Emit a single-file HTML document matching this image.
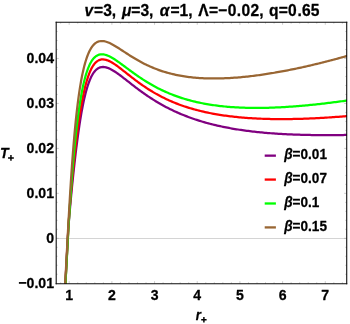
<!DOCTYPE html>
<html><head><meta charset="utf-8"><title>T+ vs r+</title>
<style>
html,body{margin:0;padding:0;background:#fff;}
body{width:350px;height:324px;overflow:hidden;}
svg{display:block;will-change:transform;font-family:"Liberation Sans",sans-serif;font-weight:bold;font-size:12px;fill:#000;}
text{stroke:#000;stroke-width:0.28px;stroke-linejoin:round;}
</style></head><body>
<svg width="350" height="324" viewBox="0 0 350 324">
<rect width="350" height="324" fill="#fff"/>
<line x1="56.20" y1="238.5" x2="346.72" y2="238.5" stroke="#c2c2c2" stroke-width="0.7"/>
<clipPath id="c"><rect x="56.20" y="22.20" width="290.82" height="261.84"/></clipPath>
<g clip-path="url(#c)">
<path d="M65.30 284.48 L65.38 282.97 L65.47 281.47 L65.55 279.96 L65.64 278.46 L65.72 276.95 L65.81 275.45 L65.89 273.94 L65.97 272.43 L66.06 270.93 L66.14 269.42 L66.22 267.92 L66.30 266.41 L66.38 264.90 L66.46 263.40 L66.54 261.89 L66.62 260.39 L66.70 258.88 L66.78 257.37 L66.86 255.87 L66.94 254.36 L67.02 252.86 L67.10 251.35 L67.18 249.84 L67.26 248.34 L67.34 246.83 L67.42 245.33 L67.50 243.82 L67.58 242.31 L67.66 240.81 L67.74 239.30 L67.82 237.80 L67.90 236.29 L67.98 234.79 L68.06 233.28 L68.14 231.77 L68.22 230.27 L68.32 228.76 L68.44 227.26 L68.55 225.76 L68.67 224.25 L68.78 222.75 L68.90 221.25 L69.03 219.74 L69.15 218.24 L69.27 216.74 L69.40 215.23 L69.52 213.73 L69.65 212.23 L69.78 210.73 L69.91 209.22 L70.05 207.72 L70.18 206.22 L70.32 204.72 L70.45 203.21 L70.59 201.71 L70.73 200.21 L70.87 198.71 L71.01 197.21 L71.15 195.71 L71.30 194.21 L71.44 192.70 L71.59 191.20 L71.74 189.70 L71.88 188.20 L72.03 186.70 L72.18 185.20 L72.33 183.70 L72.49 182.20 L72.64 180.70 L72.80 179.20 L72.95 177.70 L73.11 176.20 L73.27 174.70 L73.43 173.20 L73.59 171.70 L73.75 170.20 L73.91 168.70 L74.08 167.20 L74.25 165.71 L74.41 164.21 L74.58 162.71 L74.75 161.21 L74.92 159.71 L75.10 158.21 L75.27 156.71 L75.45 155.22 L75.62 153.72 L75.80 152.22 L75.99 150.73 L76.17 149.23 L76.35 147.73 L76.54 146.24 L76.73 144.74 L76.92 143.24 L77.11 141.75 L77.31 140.25 L77.51 138.76 L77.71 137.26 L77.91 135.77 L78.12 134.27 L78.32 132.78 L78.54 131.29 L78.75 129.79 L78.97 128.30 L79.19 126.81 L79.41 125.32 L79.64 123.83 L79.87 122.34 L80.10 120.85 L80.34 119.36 L80.59 117.87 L80.84 116.38 L81.09 114.90 L81.35 113.41 L81.61 111.93 L81.88 110.44 L82.15 108.96 L82.43 107.48 L82.72 106.00 L83.02 104.52 L83.32 103.04 L83.63 101.57 L83.95 100.09 L84.28 98.62 L84.62 97.15 L84.97 95.68 L85.33 94.22 L85.70 92.76 L86.09 91.30 L86.49 89.85 L86.91 88.40 L87.35 86.96 L87.81 85.52 L88.28 84.09 L88.79 82.67 L89.32 81.26 L89.88 79.86 L90.48 78.47 L91.12 77.10 L91.80 75.76 L92.54 74.45 L93.34 73.17 L94.22 71.94 L95.18 70.78 L96.24 69.71 L97.42 68.77 L98.71 67.99 L100.10 67.41 L101.56 67.07 L103.07 66.96 L104.57 67.07 L106.05 67.36 L107.49 67.80 L108.90 68.34 L110.27 68.97 L111.61 69.67 L112.91 70.42 L114.20 71.21 L115.46 72.03 L116.71 72.88 L117.94 73.75 L119.16 74.63 L120.38 75.53 L121.58 76.44 L122.78 77.36 L123.97 78.28 L125.16 79.20 L126.35 80.13 L127.54 81.06 L128.72 81.99 L129.91 82.92 L131.10 83.85 L132.29 84.78 L133.48 85.70 L134.68 86.62 L135.88 87.53 L137.08 88.44 L138.29 89.34 L139.50 90.24 L140.72 91.13 L141.94 92.01 L143.17 92.89 L144.40 93.76 L145.64 94.62 L146.88 95.47 L148.13 96.32 L149.39 97.16 L150.65 97.98 L151.91 98.80 L153.19 99.61 L154.47 100.41 L155.75 101.20 L157.04 101.98 L158.34 102.74 L159.64 103.50 L160.95 104.25 L162.27 104.99 L163.59 105.72 L164.92 106.43 L166.25 107.14 L167.59 107.83 L168.93 108.52 L170.28 109.19 L171.64 109.85 L173.00 110.50 L174.36 111.15 L175.73 111.78 L177.11 112.39 L178.49 113.00 L179.87 113.60 L181.26 114.18 L182.66 114.76 L184.05 115.32 L185.46 115.88 L186.86 116.42 L188.27 116.95 L189.69 117.48 L191.11 117.99 L192.53 118.49 L193.96 118.98 L195.39 119.46 L196.82 119.93 L198.25 120.39 L199.69 120.84 L201.13 121.28 L202.58 121.72 L204.03 122.14 L205.48 122.55 L206.93 122.96 L208.39 123.35 L209.84 123.73 L211.31 124.11 L212.77 124.48 L214.23 124.84 L215.70 125.19 L217.17 125.53 L218.64 125.86 L220.11 126.19 L221.59 126.51 L223.06 126.82 L224.54 127.12 L226.02 127.41 L227.50 127.70 L228.98 127.98 L230.46 128.25 L231.95 128.52 L233.43 128.77 L234.92 129.02 L236.41 129.27 L237.90 129.50 L239.39 129.74 L240.88 129.96 L242.37 130.18 L243.87 130.39 L245.36 130.59 L246.85 130.79 L248.35 130.99 L249.85 131.18 L251.34 131.36 L252.84 131.53 L254.34 131.71 L255.84 131.87 L257.34 132.03 L258.84 132.19 L260.34 132.34 L261.84 132.48 L263.34 132.62 L264.84 132.76 L266.35 132.89 L267.85 133.02 L269.35 133.14 L270.85 133.25 L272.36 133.37 L273.86 133.48 L275.37 133.58 L276.87 133.68 L278.38 133.78 L279.88 133.87 L281.39 133.96 L282.89 134.04 L284.40 134.12 L285.91 134.20 L287.41 134.27 L288.92 134.34 L290.42 134.41 L291.93 134.47 L293.44 134.53 L294.95 134.59 L296.45 134.64 L297.96 134.70 L299.47 134.74 L300.97 134.79 L302.48 134.83 L303.99 134.87 L305.50 134.90 L307.00 134.93 L308.51 134.96 L310.02 134.99 L311.53 135.02 L313.04 135.04 L314.54 135.06 L316.05 135.08 L317.56 135.09 L319.07 135.10 L320.58 135.11 L322.08 135.12 L323.59 135.13 L325.10 135.13 L326.61 135.13 L328.12 135.13 L329.62 135.13 L331.13 135.12 L332.64 135.11 L334.15 135.10 L335.66 135.09 L337.16 135.08 L338.67 135.07 L340.18 135.05 L341.69 135.03 L343.20 135.01 L344.70 134.99 L346.21 134.96 L347.72 134.94" fill="none" stroke="#800080" stroke-width="2.25" stroke-linejoin="round"/>
<path d="M65.35 284.46 L65.43 282.95 L65.52 281.45 L65.61 279.94 L65.69 278.44 L65.78 276.93 L65.86 275.42 L65.94 273.92 L66.02 272.41 L66.11 270.91 L66.19 269.40 L66.27 267.89 L66.35 266.39 L66.43 264.88 L66.51 263.37 L66.59 261.87 L66.67 260.36 L66.75 258.86 L66.83 257.35 L66.91 255.84 L66.99 254.34 L67.07 252.83 L67.15 251.32 L67.23 249.82 L67.31 248.31 L67.39 246.81 L67.47 245.30 L67.55 243.79 L67.63 242.29 L67.71 240.78 L67.79 239.27 L67.87 237.77 L67.95 236.26 L68.03 234.76 L68.11 233.25 L68.19 231.74 L68.27 230.24 L68.36 228.73 L68.44 227.22 L68.52 225.72 L68.60 224.21 L68.69 222.71 L68.77 221.20 L68.88 219.70 L68.99 218.19 L69.10 216.69 L69.21 215.18 L69.33 213.68 L69.44 212.17 L69.56 210.67 L69.67 209.17 L69.79 207.66 L69.91 206.16 L70.03 204.66 L70.15 203.15 L70.27 201.65 L70.39 200.15 L70.52 198.64 L70.64 197.14 L70.77 195.64 L70.89 194.13 L71.02 192.63 L71.15 191.13 L71.28 189.62 L71.42 188.12 L71.55 186.62 L71.68 185.12 L71.82 183.61 L71.95 182.11 L72.09 180.61 L72.23 179.11 L72.37 177.61 L72.51 176.10 L72.66 174.60 L72.80 173.10 L72.94 171.60 L73.09 170.10 L73.24 168.60 L73.39 167.10 L73.54 165.60 L73.69 164.09 L73.84 162.59 L74.00 161.09 L74.15 159.59 L74.31 158.09 L74.47 156.59 L74.63 155.09 L74.79 153.59 L74.96 152.09 L75.12 150.60 L75.29 149.10 L75.46 147.60 L75.63 146.10 L75.81 144.60 L75.98 143.10 L76.16 141.60 L76.34 140.11 L76.52 138.61 L76.70 137.11 L76.89 135.61 L77.08 134.12 L77.27 132.62 L77.46 131.13 L77.66 129.63 L77.85 128.13 L78.05 126.64 L78.26 125.15 L78.47 123.65 L78.68 122.16 L78.89 120.66 L79.11 119.17 L79.33 117.68 L79.55 116.19 L79.78 114.70 L80.01 113.21 L80.25 111.72 L80.49 110.23 L80.74 108.74 L80.99 107.25 L81.24 105.77 L81.51 104.28 L81.77 102.80 L82.05 101.31 L82.33 99.83 L82.61 98.35 L82.91 96.87 L83.21 95.39 L83.52 93.92 L83.84 92.44 L84.16 90.97 L84.50 89.50 L84.85 88.03 L85.21 86.57 L85.58 85.11 L85.97 83.65 L86.37 82.19 L86.79 80.74 L87.23 79.30 L87.69 77.86 L88.16 76.43 L88.67 75.01 L89.20 73.60 L89.76 72.20 L90.36 70.81 L91.00 69.45 L91.68 68.10 L92.42 66.79 L93.22 65.51 L94.10 64.29 L95.07 63.13 L96.13 62.06 L97.31 61.12 L98.60 60.35 L100.00 59.78 L101.47 59.46 L102.98 59.38 L104.48 59.52 L105.95 59.85 L107.39 60.31 L108.78 60.88 L110.14 61.54 L111.47 62.26 L112.76 63.03 L114.03 63.84 L115.29 64.68 L116.52 65.54 L117.74 66.43 L118.95 67.33 L120.16 68.24 L121.35 69.16 L122.54 70.09 L123.73 71.02 L124.91 71.96 L126.09 72.89 L127.27 73.83 L128.46 74.76 L129.64 75.70 L130.83 76.63 L132.02 77.55 L133.22 78.47 L134.42 79.39 L135.62 80.30 L136.83 81.20 L138.04 82.10 L139.26 82.98 L140.49 83.86 L141.72 84.73 L142.96 85.59 L144.20 86.44 L145.46 87.28 L146.72 88.12 L147.98 88.93 L149.26 89.74 L150.54 90.54 L151.82 91.33 L153.12 92.10 L154.42 92.86 L155.73 93.61 L157.04 94.35 L158.37 95.08 L159.70 95.79 L161.03 96.49 L162.37 97.18 L163.72 97.85 L165.08 98.51 L166.44 99.16 L167.81 99.80 L169.18 100.42 L170.56 101.03 L171.95 101.63 L173.34 102.21 L174.73 102.79 L176.13 103.35 L177.54 103.89 L178.95 104.43 L180.36 104.95 L181.78 105.46 L183.21 105.95 L184.64 106.44 L186.07 106.91 L187.51 107.37 L188.95 107.82 L190.39 108.26 L191.84 108.69 L193.29 109.10 L194.74 109.51 L196.20 109.90 L197.65 110.28 L199.12 110.66 L200.58 111.02 L202.05 111.37 L203.52 111.71 L204.99 112.04 L206.46 112.36 L207.94 112.67 L209.42 112.98 L210.89 113.27 L212.38 113.55 L213.86 113.83 L215.34 114.10 L216.83 114.35 L218.32 114.60 L219.81 114.84 L221.30 115.08 L222.79 115.30 L224.28 115.52 L225.78 115.73 L227.27 115.93 L228.77 116.12 L230.26 116.31 L231.76 116.49 L233.26 116.66 L234.76 116.83 L236.26 116.98 L237.76 117.14 L239.26 117.28 L240.76 117.42 L242.27 117.55 L243.77 117.68 L245.27 117.80 L246.78 117.91 L248.28 118.02 L249.79 118.12 L251.29 118.22 L252.80 118.31 L254.30 118.40 L255.81 118.48 L257.32 118.55 L258.82 118.62 L260.33 118.69 L261.84 118.75 L263.34 118.80 L264.85 118.85 L266.36 118.90 L267.87 118.94 L269.37 118.98 L270.88 119.01 L272.39 119.04 L273.90 119.06 L275.41 119.08 L276.92 119.09 L278.42 119.10 L279.93 119.11 L281.44 119.11 L282.95 119.11 L284.46 119.10 L285.97 119.09 L287.47 119.08 L288.98 119.06 L290.49 119.04 L292.00 119.02 L293.51 118.99 L295.02 118.96 L296.52 118.93 L298.03 118.89 L299.54 118.85 L301.05 118.80 L302.55 118.76 L304.06 118.70 L305.57 118.65 L307.08 118.59 L308.58 118.53 L310.09 118.47 L311.60 118.40 L313.10 118.34 L314.61 118.26 L316.12 118.19 L317.62 118.11 L319.13 118.03 L320.64 117.95 L322.14 117.86 L323.65 117.78 L325.15 117.69 L326.66 117.59 L328.17 117.50 L329.67 117.40 L331.18 117.30 L332.68 117.20 L334.19 117.09 L335.69 116.98 L337.19 116.87 L338.70 116.76 L340.20 116.65 L341.71 116.53 L343.21 116.41 L344.71 116.29 L346.22 116.17 L347.72 116.04" fill="none" stroke="#ff0000" stroke-width="2.25" stroke-linejoin="round"/>
<path d="M65.40 284.78 L65.46 283.28 L65.55 281.78 L65.64 280.27 L65.72 278.77 L65.81 277.27 L65.89 275.77 L65.97 274.26 L66.06 272.76 L66.14 271.26 L66.22 269.76 L66.30 268.25 L66.38 266.75 L66.46 265.25 L66.54 263.74 L66.62 262.24 L66.70 260.74 L66.78 259.24 L66.86 257.73 L66.94 256.23 L67.02 254.73 L67.10 253.22 L67.18 251.72 L67.26 250.22 L67.34 248.72 L67.42 247.21 L67.50 245.71 L67.58 244.21 L67.66 242.70 L67.74 241.20 L67.82 239.70 L67.90 238.20 L67.98 236.69 L68.06 235.19 L68.14 233.69 L68.22 232.18 L68.30 230.68 L68.38 229.18 L68.47 227.68 L68.56 226.17 L68.66 224.67 L68.75 223.17 L68.85 221.67 L68.94 220.17 L69.04 218.67 L69.13 217.16 L69.23 215.66 L69.33 214.16 L69.43 212.66 L69.53 211.16 L69.62 209.65 L69.72 208.15 L69.83 206.65 L69.93 205.15 L70.03 203.65 L70.13 202.15 L70.23 200.65 L70.34 199.14 L70.44 197.64 L70.55 196.14 L70.66 194.64 L70.76 193.14 L70.87 191.64 L70.98 190.14 L71.09 188.64 L71.20 187.14 L71.31 185.63 L71.43 184.13 L71.54 182.63 L71.65 181.13 L71.77 179.63 L71.89 178.13 L72.00 176.63 L72.12 175.13 L72.24 173.63 L72.36 172.13 L72.48 170.63 L72.61 169.13 L72.73 167.63 L72.86 166.13 L72.98 164.63 L73.11 163.13 L73.24 161.63 L73.37 160.13 L73.50 158.63 L73.64 157.14 L73.77 155.64 L73.91 154.14 L74.05 152.64 L74.19 151.14 L74.33 149.64 L74.47 148.14 L74.61 146.65 L74.76 145.15 L74.91 143.65 L75.06 142.15 L75.21 140.66 L75.36 139.16 L75.52 137.66 L75.68 136.17 L75.84 134.67 L76.00 133.17 L76.17 131.68 L76.33 130.18 L76.50 128.69 L76.68 127.19 L76.85 125.70 L77.03 124.20 L77.21 122.71 L77.39 121.21 L77.58 119.72 L77.77 118.23 L77.96 116.74 L78.16 115.24 L78.36 113.75 L78.57 112.26 L78.77 110.77 L78.99 109.28 L79.20 107.79 L79.43 106.30 L79.65 104.81 L79.88 103.33 L80.12 101.84 L80.36 100.36 L80.61 98.87 L80.86 97.39 L81.12 95.91 L81.39 94.42 L81.66 92.94 L81.95 91.47 L82.24 89.99 L82.53 88.51 L82.84 87.04 L83.16 85.57 L83.49 84.10 L83.83 82.64 L84.18 81.17 L84.55 79.71 L84.93 78.26 L85.33 76.81 L85.74 75.36 L86.17 73.92 L86.63 72.48 L87.10 71.06 L87.61 69.64 L88.14 68.23 L88.71 66.84 L89.31 65.46 L89.96 64.10 L90.65 62.76 L91.40 61.46 L92.22 60.20 L93.12 58.99 L94.11 57.86 L95.20 56.82 L96.40 55.92 L97.72 55.18 L99.12 54.66 L100.60 54.36 L102.10 54.30 L103.60 54.43 L105.07 54.73 L106.51 55.17 L107.92 55.70 L109.29 56.32 L110.63 57.00 L111.95 57.73 L113.24 58.50 L114.52 59.30 L115.78 60.13 L117.02 60.97 L118.26 61.83 L119.48 62.70 L120.70 63.58 L121.92 64.47 L123.13 65.37 L124.34 66.26 L125.54 67.16 L126.75 68.06 L127.96 68.96 L129.17 69.85 L130.38 70.74 L131.60 71.63 L132.81 72.52 L134.04 73.40 L135.26 74.27 L136.49 75.13 L137.73 75.99 L138.97 76.84 L140.22 77.69 L141.47 78.52 L142.73 79.34 L143.99 80.16 L145.27 80.96 L146.54 81.76 L147.83 82.54 L149.12 83.31 L150.42 84.08 L151.72 84.83 L153.03 85.56 L154.35 86.29 L155.68 87.00 L157.01 87.70 L158.35 88.39 L159.69 89.07 L161.04 89.73 L162.40 90.38 L163.77 91.02 L165.14 91.64 L166.51 92.25 L167.89 92.84 L169.28 93.43 L170.67 94.00 L172.07 94.55 L173.48 95.10 L174.88 95.63 L176.30 96.14 L177.72 96.65 L179.14 97.14 L180.57 97.61 L182.00 98.08 L183.43 98.53 L184.87 98.97 L186.32 99.39 L187.77 99.80 L189.22 100.20 L190.67 100.59 L192.13 100.97 L193.59 101.33 L195.05 101.69 L196.52 102.03 L197.98 102.36 L199.46 102.67 L200.93 102.98 L202.40 103.27 L203.88 103.56 L205.36 103.83 L206.84 104.10 L208.33 104.35 L209.81 104.59 L211.30 104.83 L212.79 105.05 L214.28 105.26 L215.77 105.46 L217.26 105.66 L218.75 105.84 L220.25 106.02 L221.75 106.19 L223.24 106.35 L224.74 106.50 L226.24 106.64 L227.74 106.77 L229.24 106.90 L230.74 107.01 L232.24 107.12 L233.74 107.22 L235.24 107.32 L236.74 107.41 L238.25 107.49 L239.75 107.56 L241.25 107.62 L242.76 107.68 L244.26 107.74 L245.77 107.78 L247.27 107.82 L248.77 107.85 L250.28 107.88 L251.78 107.90 L253.29 107.92 L254.79 107.92 L256.30 107.93 L257.80 107.93 L259.31 107.92 L260.81 107.90 L262.32 107.88 L263.82 107.86 L265.33 107.83 L266.83 107.80 L268.34 107.76 L269.84 107.71 L271.35 107.67 L272.85 107.61 L274.35 107.55 L275.86 107.49 L277.36 107.42 L278.86 107.35 L280.37 107.28 L281.87 107.20 L283.37 107.11 L284.87 107.02 L286.38 106.93 L287.88 106.84 L289.38 106.74 L290.88 106.63 L292.38 106.53 L293.88 106.41 L295.38 106.30 L296.88 106.18 L298.38 106.06 L299.88 105.94 L301.38 105.81 L302.88 105.68 L304.38 105.54 L305.88 105.40 L307.38 105.26 L308.88 105.12 L310.37 104.97 L311.87 104.82 L313.37 104.67 L314.87 104.51 L316.36 104.35 L317.86 104.19 L319.35 104.02 L320.85 103.86 L322.35 103.69 L323.84 103.52 L325.33 103.34 L326.83 103.16 L328.32 102.98 L329.82 102.80 L331.31 102.61 L332.80 102.43 L334.30 102.24 L335.79 102.04 L337.28 101.85 L338.77 101.65 L340.27 101.45 L341.76 101.25 L343.25 101.05 L344.74 100.84 L346.23 100.64 L347.72 100.43" fill="none" stroke="#00ff00" stroke-width="2.25" stroke-linejoin="round"/>
<path d="M65.10 284.46 L65.18 282.95 L65.27 281.45 L65.36 279.95 L65.44 278.44 L65.52 276.94 L65.61 275.44 L65.69 273.94 L65.77 272.43 L65.86 270.93 L65.94 269.43 L66.02 267.93 L66.10 266.42 L66.18 264.92 L66.26 263.42 L66.34 261.91 L66.42 260.41 L66.50 258.91 L66.58 257.40 L66.66 255.90 L66.74 254.40 L66.82 252.90 L66.90 251.39 L66.98 249.89 L67.06 248.39 L67.14 246.88 L67.21 245.38 L67.29 243.88 L67.37 242.38 L67.45 240.87 L67.53 239.37 L67.61 237.87 L67.69 236.36 L67.78 234.86 L67.86 233.36 L67.94 231.86 L68.02 230.35 L68.10 228.85 L68.18 227.35 L68.26 225.84 L68.35 224.34 L68.43 222.84 L68.51 221.34 L68.59 219.83 L68.68 218.33 L68.76 216.83 L68.85 215.32 L68.93 213.82 L69.02 212.32 L69.10 210.82 L69.19 209.31 L69.28 207.81 L69.36 206.31 L69.45 204.81 L69.54 203.30 L69.63 201.80 L69.72 200.30 L69.81 198.80 L69.90 197.29 L69.99 195.79 L70.08 194.29 L70.17 192.79 L70.26 191.29 L70.36 189.78 L70.45 188.28 L70.55 186.78 L70.64 185.28 L70.74 183.77 L70.83 182.27 L70.93 180.77 L71.03 179.27 L71.13 177.77 L71.23 176.27 L71.33 174.76 L71.43 173.26 L71.54 171.76 L71.64 170.26 L71.74 168.76 L71.85 167.26 L71.96 165.76 L72.06 164.25 L72.17 162.75 L72.28 161.25 L72.39 159.75 L72.50 158.25 L72.62 156.75 L72.73 155.25 L72.85 153.75 L72.96 152.25 L73.08 150.75 L73.20 149.25 L73.32 147.75 L73.44 146.25 L73.57 144.75 L73.69 143.25 L73.82 141.75 L73.95 140.25 L74.08 138.75 L74.21 137.25 L74.34 135.75 L74.47 134.25 L74.61 132.75 L74.75 131.25 L74.89 129.75 L75.03 128.26 L75.18 126.76 L75.32 125.26 L75.47 123.76 L75.62 122.26 L75.77 120.77 L75.93 119.27 L76.09 117.77 L76.25 116.28 L76.41 114.78 L76.57 113.28 L76.74 111.79 L76.91 110.29 L77.09 108.80 L77.27 107.30 L77.45 105.81 L77.63 104.32 L77.82 102.82 L78.01 101.33 L78.20 99.84 L78.40 98.35 L78.61 96.85 L78.81 95.36 L79.03 93.87 L79.24 92.38 L79.47 90.90 L79.69 89.41 L79.93 87.92 L80.17 86.44 L80.41 84.95 L80.66 83.47 L80.92 81.98 L81.19 80.50 L81.46 79.02 L81.74 77.54 L82.03 76.07 L82.33 74.59 L82.64 73.12 L82.96 71.65 L83.29 70.18 L83.63 68.71 L83.99 67.25 L84.36 65.79 L84.75 64.34 L85.15 62.89 L85.57 61.44 L86.01 60.01 L86.48 58.57 L86.97 57.15 L87.49 55.74 L88.04 54.34 L88.62 52.95 L89.25 51.58 L89.92 50.24 L90.65 48.92 L91.44 47.64 L92.30 46.40 L93.24 45.23 L94.28 44.14 L95.42 43.16 L96.68 42.33 L98.03 41.69 L99.47 41.25 L100.96 41.04 L102.46 41.03 L103.96 41.20 L105.43 41.52 L106.87 41.96 L108.28 42.49 L109.66 43.09 L111.01 43.74 L112.35 44.44 L113.66 45.17 L114.96 45.93 L116.25 46.71 L117.53 47.50 L118.80 48.31 L120.06 49.12 L121.33 49.95 L122.59 50.77 L123.84 51.59 L125.10 52.42 L126.36 53.24 L127.63 54.06 L128.89 54.87 L130.16 55.68 L131.44 56.48 L132.72 57.27 L134.00 58.05 L135.30 58.83 L136.59 59.59 L137.90 60.34 L139.21 61.07 L140.53 61.80 L141.86 62.51 L143.19 63.21 L144.53 63.89 L145.88 64.56 L147.24 65.21 L148.60 65.85 L149.97 66.47 L151.35 67.07 L152.74 67.66 L154.13 68.23 L155.53 68.79 L156.93 69.32 L158.35 69.84 L159.76 70.35 L161.19 70.84 L162.62 71.31 L164.05 71.76 L165.49 72.19 L166.94 72.61 L168.39 73.02 L169.84 73.40 L171.30 73.77 L172.76 74.13 L174.23 74.47 L175.70 74.79 L177.17 75.10 L178.65 75.39 L180.13 75.66 L181.61 75.93 L183.10 76.17 L184.58 76.41 L186.07 76.62 L187.56 76.83 L189.06 77.02 L190.55 77.20 L192.05 77.37 L193.54 77.52 L195.04 77.66 L196.54 77.79 L198.04 77.90 L199.54 78.01 L201.05 78.10 L202.55 78.18 L204.05 78.26 L205.56 78.32 L207.06 78.37 L208.57 78.41 L210.07 78.44 L211.58 78.46 L213.08 78.47 L214.59 78.47 L216.09 78.46 L217.60 78.45 L219.10 78.42 L220.61 78.39 L222.11 78.35 L223.61 78.30 L225.12 78.24 L226.62 78.17 L228.12 78.10 L229.63 78.02 L231.13 77.93 L232.63 77.84 L234.13 77.73 L235.63 77.62 L237.14 77.51 L238.64 77.39 L240.13 77.26 L241.63 77.12 L243.13 76.98 L244.63 76.83 L246.13 76.68 L247.62 76.52 L249.12 76.35 L250.61 76.18 L252.11 76.00 L253.60 75.82 L255.10 75.63 L256.59 75.44 L258.08 75.24 L259.57 75.04 L261.06 74.83 L262.55 74.62 L264.04 74.40 L265.53 74.17 L267.02 73.95 L268.50 73.71 L269.99 73.48 L271.48 73.23 L272.96 72.99 L274.45 72.74 L275.93 72.48 L277.41 72.22 L278.89 71.96 L280.37 71.69 L281.86 71.42 L283.33 71.15 L284.81 70.87 L286.29 70.59 L287.77 70.30 L289.25 70.01 L290.72 69.71 L292.20 69.42 L293.67 69.11 L295.15 68.81 L296.62 68.50 L298.09 68.19 L299.56 67.87 L301.03 67.55 L302.50 67.23 L303.97 66.90 L305.44 66.57 L306.91 66.24 L308.38 65.91 L309.84 65.57 L311.31 65.22 L312.77 64.88 L314.24 64.53 L315.70 64.18 L317.16 63.83 L318.63 63.47 L320.09 63.11 L321.55 62.75 L323.01 62.38 L324.47 62.01 L325.93 61.64 L327.38 61.27 L328.84 60.89 L330.30 60.51 L331.75 60.13 L333.21 59.74 L334.66 59.36 L336.12 58.97 L337.57 58.57 L339.02 58.18 L340.47 57.78 L341.92 57.38 L343.37 56.98 L344.82 56.57 L346.27 56.16 L347.72 55.76" fill="none" stroke="#996633" stroke-width="2.25" stroke-linejoin="round"/>
</g>
<g stroke="#9a9a9a" stroke-width="0.5">
<line x1="60.67" y1="283.74" x2="60.67" y2="282.24"/>
<line x1="60.67" y1="22.20" x2="60.67" y2="23.70"/>
<line x1="69.20" y1="283.74" x2="69.20" y2="281.14"/>
<line x1="69.20" y1="22.20" x2="69.20" y2="24.80"/>
<line x1="77.74" y1="283.74" x2="77.74" y2="282.24"/>
<line x1="77.74" y1="22.20" x2="77.74" y2="23.70"/>
<line x1="86.28" y1="283.74" x2="86.28" y2="282.24"/>
<line x1="86.28" y1="22.20" x2="86.28" y2="23.70"/>
<line x1="94.81" y1="283.74" x2="94.81" y2="282.24"/>
<line x1="94.81" y1="22.20" x2="94.81" y2="23.70"/>
<line x1="103.35" y1="283.74" x2="103.35" y2="282.24"/>
<line x1="103.35" y1="22.20" x2="103.35" y2="23.70"/>
<line x1="111.88" y1="283.74" x2="111.88" y2="281.14"/>
<line x1="111.88" y1="22.20" x2="111.88" y2="24.80"/>
<line x1="120.42" y1="283.74" x2="120.42" y2="282.24"/>
<line x1="120.42" y1="22.20" x2="120.42" y2="23.70"/>
<line x1="128.96" y1="283.74" x2="128.96" y2="282.24"/>
<line x1="128.96" y1="22.20" x2="128.96" y2="23.70"/>
<line x1="137.49" y1="283.74" x2="137.49" y2="282.24"/>
<line x1="137.49" y1="22.20" x2="137.49" y2="23.70"/>
<line x1="146.03" y1="283.74" x2="146.03" y2="282.24"/>
<line x1="146.03" y1="22.20" x2="146.03" y2="23.70"/>
<line x1="154.56" y1="283.74" x2="154.56" y2="281.14"/>
<line x1="154.56" y1="22.20" x2="154.56" y2="24.80"/>
<line x1="163.10" y1="283.74" x2="163.10" y2="282.24"/>
<line x1="163.10" y1="22.20" x2="163.10" y2="23.70"/>
<line x1="171.64" y1="283.74" x2="171.64" y2="282.24"/>
<line x1="171.64" y1="22.20" x2="171.64" y2="23.70"/>
<line x1="180.17" y1="283.74" x2="180.17" y2="282.24"/>
<line x1="180.17" y1="22.20" x2="180.17" y2="23.70"/>
<line x1="188.71" y1="283.74" x2="188.71" y2="282.24"/>
<line x1="188.71" y1="22.20" x2="188.71" y2="23.70"/>
<line x1="197.24" y1="283.74" x2="197.24" y2="281.14"/>
<line x1="197.24" y1="22.20" x2="197.24" y2="24.80"/>
<line x1="205.78" y1="283.74" x2="205.78" y2="282.24"/>
<line x1="205.78" y1="22.20" x2="205.78" y2="23.70"/>
<line x1="214.32" y1="283.74" x2="214.32" y2="282.24"/>
<line x1="214.32" y1="22.20" x2="214.32" y2="23.70"/>
<line x1="222.85" y1="283.74" x2="222.85" y2="282.24"/>
<line x1="222.85" y1="22.20" x2="222.85" y2="23.70"/>
<line x1="231.39" y1="283.74" x2="231.39" y2="282.24"/>
<line x1="231.39" y1="22.20" x2="231.39" y2="23.70"/>
<line x1="239.92" y1="283.74" x2="239.92" y2="281.14"/>
<line x1="239.92" y1="22.20" x2="239.92" y2="24.80"/>
<line x1="248.46" y1="283.74" x2="248.46" y2="282.24"/>
<line x1="248.46" y1="22.20" x2="248.46" y2="23.70"/>
<line x1="257.00" y1="283.74" x2="257.00" y2="282.24"/>
<line x1="257.00" y1="22.20" x2="257.00" y2="23.70"/>
<line x1="265.53" y1="283.74" x2="265.53" y2="282.24"/>
<line x1="265.53" y1="22.20" x2="265.53" y2="23.70"/>
<line x1="274.07" y1="283.74" x2="274.07" y2="282.24"/>
<line x1="274.07" y1="22.20" x2="274.07" y2="23.70"/>
<line x1="282.60" y1="283.74" x2="282.60" y2="281.14"/>
<line x1="282.60" y1="22.20" x2="282.60" y2="24.80"/>
<line x1="291.14" y1="283.74" x2="291.14" y2="282.24"/>
<line x1="291.14" y1="22.20" x2="291.14" y2="23.70"/>
<line x1="299.68" y1="283.74" x2="299.68" y2="282.24"/>
<line x1="299.68" y1="22.20" x2="299.68" y2="23.70"/>
<line x1="308.21" y1="283.74" x2="308.21" y2="282.24"/>
<line x1="308.21" y1="22.20" x2="308.21" y2="23.70"/>
<line x1="316.75" y1="283.74" x2="316.75" y2="282.24"/>
<line x1="316.75" y1="22.20" x2="316.75" y2="23.70"/>
<line x1="325.28" y1="283.74" x2="325.28" y2="281.14"/>
<line x1="325.28" y1="22.20" x2="325.28" y2="24.80"/>
<line x1="333.82" y1="283.74" x2="333.82" y2="282.24"/>
<line x1="333.82" y1="22.20" x2="333.82" y2="23.70"/>
<line x1="342.36" y1="283.74" x2="342.36" y2="282.24"/>
<line x1="342.36" y1="22.20" x2="342.36" y2="23.70"/>
<line x1="56.20" y1="274.27" x2="57.70" y2="274.27"/>
<line x1="346.72" y1="274.27" x2="345.22" y2="274.27"/>
<line x1="56.20" y1="265.28" x2="57.70" y2="265.28"/>
<line x1="346.72" y1="265.28" x2="345.22" y2="265.28"/>
<line x1="56.20" y1="256.28" x2="57.70" y2="256.28"/>
<line x1="346.72" y1="256.28" x2="345.22" y2="256.28"/>
<line x1="56.20" y1="247.29" x2="57.70" y2="247.29"/>
<line x1="346.72" y1="247.29" x2="345.22" y2="247.29"/>
<line x1="56.20" y1="238.30" x2="58.80" y2="238.30"/>
<line x1="346.72" y1="238.30" x2="344.12" y2="238.30"/>
<line x1="56.20" y1="229.31" x2="57.70" y2="229.31"/>
<line x1="346.72" y1="229.31" x2="345.22" y2="229.31"/>
<line x1="56.20" y1="220.32" x2="57.70" y2="220.32"/>
<line x1="346.72" y1="220.32" x2="345.22" y2="220.32"/>
<line x1="56.20" y1="211.32" x2="57.70" y2="211.32"/>
<line x1="346.72" y1="211.32" x2="345.22" y2="211.32"/>
<line x1="56.20" y1="202.33" x2="57.70" y2="202.33"/>
<line x1="346.72" y1="202.33" x2="345.22" y2="202.33"/>
<line x1="56.20" y1="193.34" x2="58.80" y2="193.34"/>
<line x1="346.72" y1="193.34" x2="344.12" y2="193.34"/>
<line x1="56.20" y1="184.35" x2="57.70" y2="184.35"/>
<line x1="346.72" y1="184.35" x2="345.22" y2="184.35"/>
<line x1="56.20" y1="175.36" x2="57.70" y2="175.36"/>
<line x1="346.72" y1="175.36" x2="345.22" y2="175.36"/>
<line x1="56.20" y1="166.36" x2="57.70" y2="166.36"/>
<line x1="346.72" y1="166.36" x2="345.22" y2="166.36"/>
<line x1="56.20" y1="157.37" x2="57.70" y2="157.37"/>
<line x1="346.72" y1="157.37" x2="345.22" y2="157.37"/>
<line x1="56.20" y1="148.38" x2="58.80" y2="148.38"/>
<line x1="346.72" y1="148.38" x2="344.12" y2="148.38"/>
<line x1="56.20" y1="139.39" x2="57.70" y2="139.39"/>
<line x1="346.72" y1="139.39" x2="345.22" y2="139.39"/>
<line x1="56.20" y1="130.40" x2="57.70" y2="130.40"/>
<line x1="346.72" y1="130.40" x2="345.22" y2="130.40"/>
<line x1="56.20" y1="121.40" x2="57.70" y2="121.40"/>
<line x1="346.72" y1="121.40" x2="345.22" y2="121.40"/>
<line x1="56.20" y1="112.41" x2="57.70" y2="112.41"/>
<line x1="346.72" y1="112.41" x2="345.22" y2="112.41"/>
<line x1="56.20" y1="103.42" x2="58.80" y2="103.42"/>
<line x1="346.72" y1="103.42" x2="344.12" y2="103.42"/>
<line x1="56.20" y1="94.43" x2="57.70" y2="94.43"/>
<line x1="346.72" y1="94.43" x2="345.22" y2="94.43"/>
<line x1="56.20" y1="85.44" x2="57.70" y2="85.44"/>
<line x1="346.72" y1="85.44" x2="345.22" y2="85.44"/>
<line x1="56.20" y1="76.44" x2="57.70" y2="76.44"/>
<line x1="346.72" y1="76.44" x2="345.22" y2="76.44"/>
<line x1="56.20" y1="67.45" x2="57.70" y2="67.45"/>
<line x1="346.72" y1="67.45" x2="345.22" y2="67.45"/>
<line x1="56.20" y1="58.46" x2="58.80" y2="58.46"/>
<line x1="346.72" y1="58.46" x2="344.12" y2="58.46"/>
<line x1="56.20" y1="49.47" x2="57.70" y2="49.47"/>
<line x1="346.72" y1="49.47" x2="345.22" y2="49.47"/>
<line x1="56.20" y1="40.48" x2="57.70" y2="40.48"/>
<line x1="346.72" y1="40.48" x2="345.22" y2="40.48"/>
<line x1="56.20" y1="31.48" x2="57.70" y2="31.48"/>
<line x1="346.72" y1="31.48" x2="345.22" y2="31.48"/>
</g>
<g stroke="#0c0c0c" stroke-width="1.08" stroke-linecap="square"><line x1="56.20" y1="22.20" x2="56.20" y2="283.74"/><line x1="346.72" y1="22.20" x2="346.72" y2="283.74"/><line x1="56.20" y1="22.20" x2="346.72" y2="22.20"/><line x1="56.20" y1="283.74" x2="346.72" y2="283.74"/></g>
<g><text transform="translate(69.20 299.50) scale(0.915 1)" text-anchor="middle" font-size="15.40">1</text><text transform="translate(111.88 299.50) scale(0.915 1)" text-anchor="middle" font-size="15.40">2</text><text transform="translate(154.56 299.50) scale(0.915 1)" text-anchor="middle" font-size="15.40">3</text><text transform="translate(197.24 299.50) scale(0.915 1)" text-anchor="middle" font-size="15.40">4</text><text transform="translate(239.92 299.50) scale(0.915 1)" text-anchor="middle" font-size="15.40">5</text><text transform="translate(282.60 299.50) scale(0.915 1)" text-anchor="middle" font-size="15.40">6</text><text transform="translate(325.28 299.50) scale(0.915 1)" text-anchor="middle" font-size="15.40">7</text></g>
<g><text transform="translate(54.00 288.16) scale(0.915 1)" text-anchor="end" font-size="15.40">−0.01</text><text transform="translate(54.00 243.20) scale(0.915 1)" text-anchor="end" font-size="15.40">0</text><text transform="translate(54.00 198.24) scale(0.915 1)" text-anchor="end" font-size="15.40">0.01</text><text transform="translate(54.00 153.28) scale(0.915 1)" text-anchor="end" font-size="15.40">0.02</text><text transform="translate(54.00 108.32) scale(0.915 1)" text-anchor="end" font-size="15.40">0.03</text><text transform="translate(54.00 63.36) scale(0.915 1)" text-anchor="end" font-size="15.40">0.04</text></g>
<g><line x1="264.7" y1="155.65" x2="275.9" y2="155.65" stroke="#800080" stroke-width="2.3"/><text transform="translate(284.20 159.05) scale(0.882 1)" text-anchor="start" font-size="15.40"><tspan font-style="italic">β</tspan>=0.01</text><line x1="264.7" y1="179.57" x2="275.9" y2="179.57" stroke="#ff0000" stroke-width="2.3"/><text transform="translate(284.20 182.97) scale(0.882 1)" text-anchor="start" font-size="15.40"><tspan font-style="italic">β</tspan>=0.07</text><line x1="264.7" y1="203.49" x2="275.9" y2="203.49" stroke="#00ff00" stroke-width="2.3"/><text transform="translate(284.20 206.89) scale(0.882 1)" text-anchor="start" font-size="15.40"><tspan font-style="italic">β</tspan>=0.1</text><line x1="264.7" y1="227.41" x2="275.9" y2="227.41" stroke="#996633" stroke-width="2.3"/><text transform="translate(284.20 230.81) scale(0.882 1)" text-anchor="start" font-size="15.40"><tspan font-style="italic">β</tspan>=0.15</text></g>
<text transform="translate(84.50 15.50) scale(0.935 1)" text-anchor="start" font-size="16.70"><tspan font-style="italic">v</tspan><tspan dx="0.9">=3,</tspan></text><text transform="translate(121.90 15.50) scale(0.935 1)" text-anchor="start" font-size="16.70"><tspan font-style="italic">μ</tspan>=3,</text><text transform="translate(159.80 15.50) scale(0.935 1)" text-anchor="start" font-size="16.70"><tspan font-style="italic">α</tspan><tspan dx="1.0">=1,</tspan></text><text transform="translate(198.20 15.50) scale(0.935 1)" text-anchor="start" font-size="16.70" letter-spacing="0.33">Λ=−0.02,</text><text transform="translate(269.00 15.50) scale(0.935 1)" text-anchor="start" font-size="16.70" letter-spacing="0.15">q=0<tspan dx="0.8">.65</tspan></text>
<text transform="translate(0.00 157.70) scale(0.915 1)" text-anchor="start" font-size="15.40" font-style="italic">T</text><path d="M8.05 157.90H13.85M10.95 155.00V160.80" stroke="#000" stroke-width="1.45" fill="none"/><text transform="translate(195.80 320.40) scale(0.915 1)" text-anchor="start" font-size="14.50" font-style="italic">r</text><path d="M201.20 319.80H206.60M203.90 317.10V322.50" stroke="#000" stroke-width="1.45" fill="none"/>
</svg>
</body></html>
